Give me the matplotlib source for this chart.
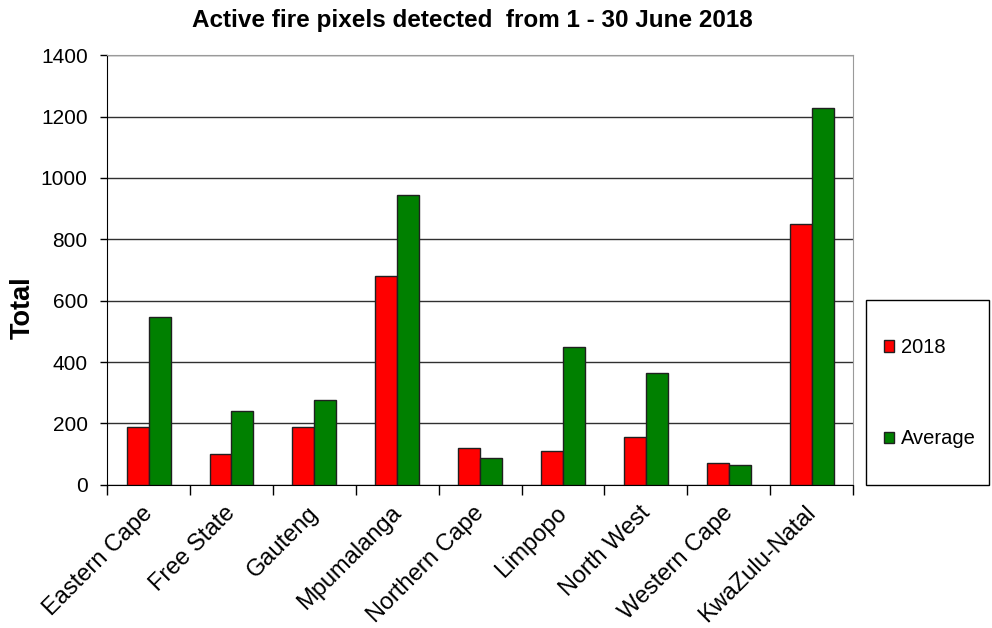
import matplotlib.pyplot as plt
import matplotlib.patches as mpatches
import matplotlib.transforms as mtransforms
import numpy as np

plt.rcParams['font.family'] = ['Liberation Sans', 'DejaVu Sans']

# data
provinces = ['Eastern Cape', 'Free State', 'Gauteng', 'Mpumalanga', 'Northern Cape',
             'Limpopo', 'North West', 'Western Cape', 'KwaZulu-Natal']
fires_2018 = [189, 101, 189, 681, 119, 110, 155, 70, 851]
fires_avg = [546, 241, 276, 943, 89, 448, 363, 63, 1227]
y_ticks = [0, 200, 400, 600, 800, 1000, 1200, 1400]

fig = plt.figure(figsize=(9.92, 6.28), dpi=100)
ax = fig.add_axes([0.108, 0.228, 0.752, 0.684])

x = np.arange(len(provinces))
w = 0.265
ax.bar(x - w / 2, fires_2018, w, color='#ff0000', edgecolor='#202020', linewidth=1, label='2018', zorder=3)
ax.bar(x + w / 2, fires_avg, w, color='#008000', edgecolor='#202020', linewidth=1, label='Average', zorder=3)

ax.set_xlim(-0.5, len(provinces) - 0.5)
ax.set_ylim(0, 1400)
ax.set_yticks(y_ticks)
ax.tick_params(axis='y', labelsize=15, direction='out', length=5, width=1, pad=9)
ax.yaxis.grid(True, color='#303030', linewidth=1, zorder=0)

# category labels, tick marks between categories
ax.set_xticks(x)
ax.set_xticklabels(provinces, rotation=45, ha='right', rotation_mode='anchor', fontsize=17)
ax.tick_params(axis='x', length=0, pad=8)
ax.set_xticks(np.arange(-0.5, len(provinces)), minor=True)
ax.tick_params(axis='x', which='minor', length=7, width=1, direction='out')
shift = mtransforms.ScaledTranslation(-0.07, -0.06, fig.dpi_scale_trans)
for lab in ax.get_xticklabels():
    lab.set_transform(lab.get_transform() + shift)

for s in ['top', 'right']:
    ax.spines[s].set_color('#9a9a9a')
for s in ['left', 'bottom']:
    ax.spines[s].set_color('black')

ax.set_ylabel('Total', fontsize=19.5, fontweight='bold')
ax.yaxis.set_label_coords(-0.096, 0.412)
fig.suptitle('Active fire pixels detected  from 1 - 30 June 2018', fontsize=17.5,
             fontweight='bold', x=0.476, y=0.985)

# legend box
fig.patches.append(mpatches.Rectangle((866 / 992, 143 / 628), 123 / 992, 185 / 628,
                                      transform=fig.transFigure, fill=False,
                                      edgecolor='black', linewidth=1))
fig.legend(loc='upper left', bbox_to_anchor=(884 / 992, (628 - 338) / 628),
           fontsize=14.5, frameon=False, handlelength=0.5, handleheight=0.5,
           handletextpad=0.35, labelspacing=3.6, borderpad=0, borderaxespad=0)

plt.savefig('out.png', dpi=100)
